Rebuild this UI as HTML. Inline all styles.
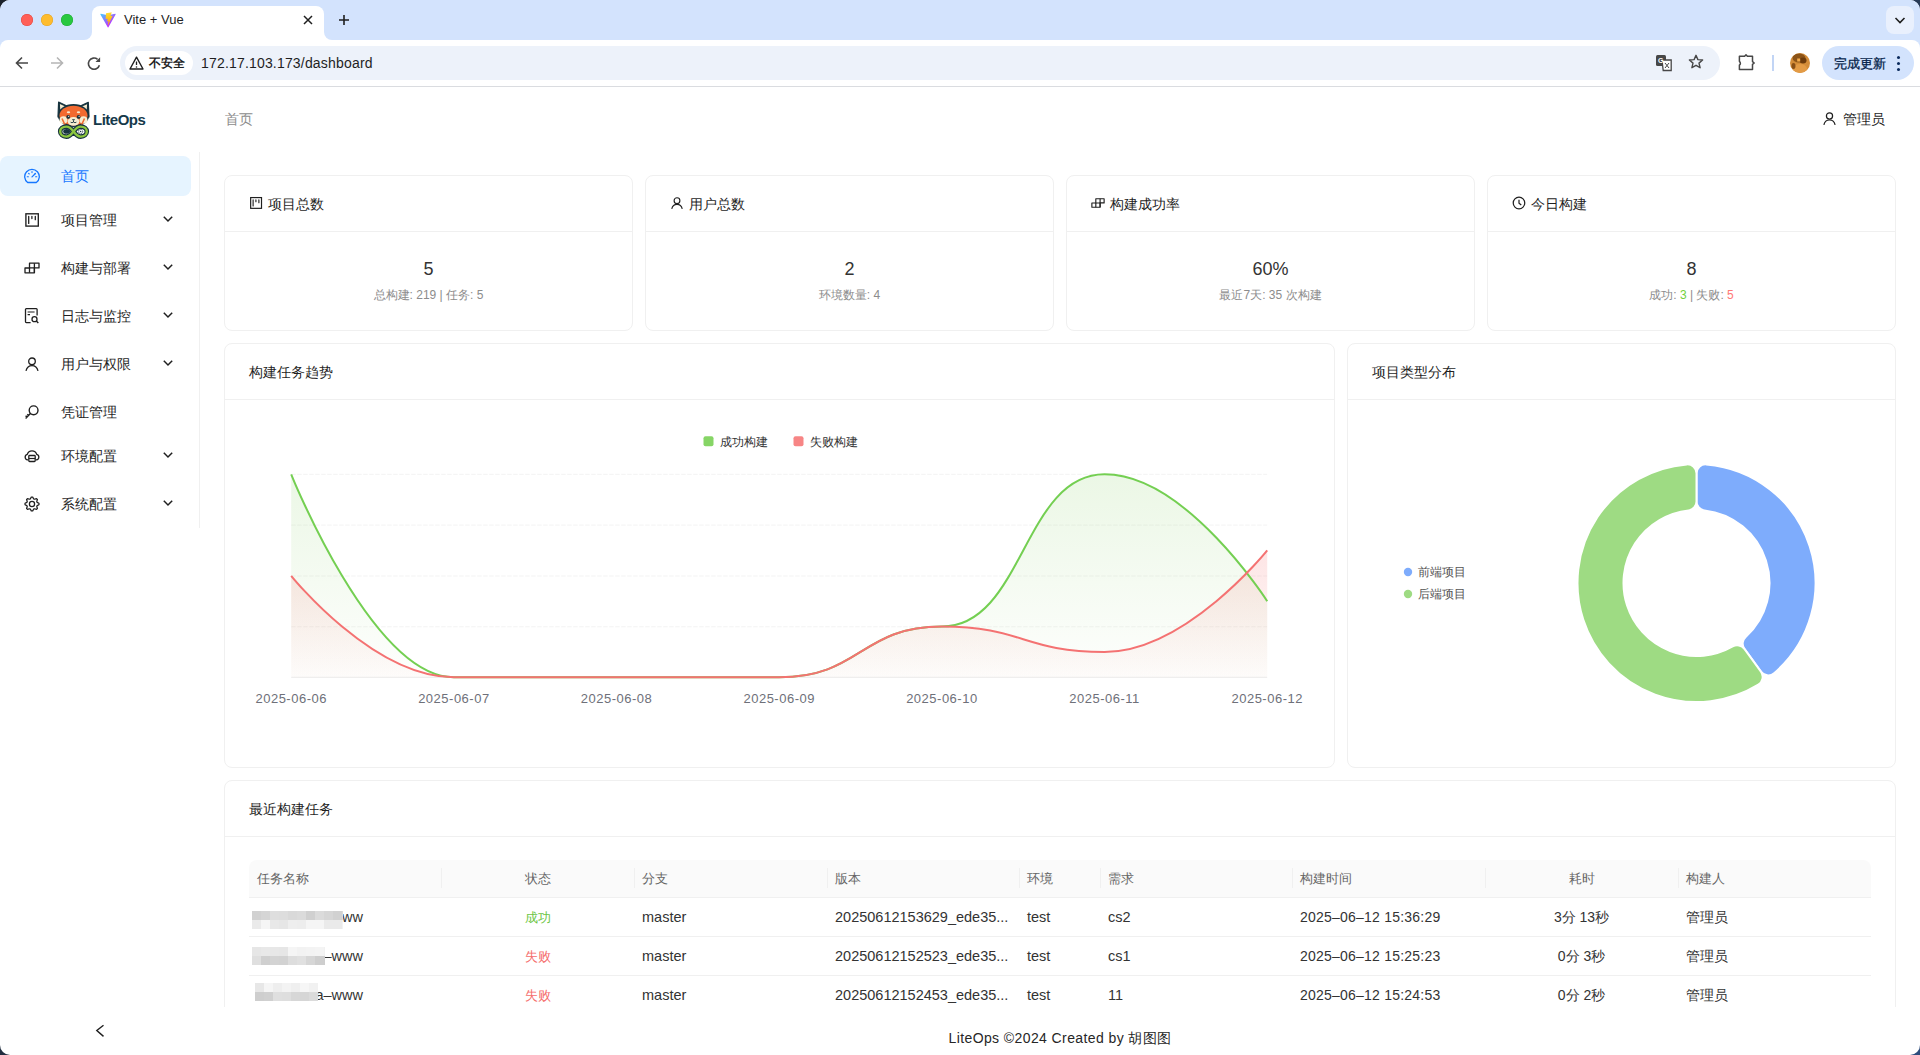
<!DOCTYPE html><html><head><meta charset="utf-8"><style>
*{box-sizing:border-box;margin:0;padding:0}
html,body{width:1920px;height:1055px;overflow:hidden;background:linear-gradient(135deg,#1c222c 0%,#243247 50%,#2d4c7c 100%)}
body{font-family:"Liberation Sans",sans-serif;color:#262626;position:relative}
.abs{position:absolute}
.win{position:absolute;left:0;top:0;width:1920px;height:1055px;border-radius:10px;overflow:hidden;background:#fff}
.tabstrip{position:absolute;left:0;top:0;width:1920px;height:48px;background:#d3e3fd}
.tab{position:absolute;left:92px;top:6px;width:232px;height:34px;background:#fff;border-radius:8px 8px 0 0}
.flare{position:absolute;top:32px;width:8px;height:8px;background:#fff}
.flare i{position:absolute;left:0;top:0;width:8px;height:8px;background:#d3e3fd}
.toolbar{position:absolute;left:0;top:40px;width:1920px;height:46px;background:#fff;border-radius:8px 8px 0 0}
.tbline{position:absolute;left:0;top:86px;width:1920px;height:1px;background:#dadce0}
.omni{position:absolute;left:120px;top:46px;width:1600px;height:34px;border-radius:17px;background:#edf2fa}
.chip{position:absolute;left:125px;top:51px;width:68px;height:24px;border-radius:12px;background:#fff}
.t{position:absolute;white-space:nowrap;line-height:1}
.side-line{position:absolute;left:199px;top:152px;width:1px;height:376px;background:#f0f0f0}
.menu-act{position:absolute;left:0;top:156px;width:191px;height:40px;border-radius:8px;background:#e6f4ff}
.card{position:absolute;background:#fff;border:1px solid #f0f0f0;border-radius:8px}
.card .head{position:absolute;left:0;top:0;right:0;height:56px;border-bottom:1px solid #f0f0f0}
</style></head><body><div class="win">
<div class="tabstrip"></div>
<div class="tab"></div>
<div class="flare" style="left:84px"><i style="border-radius:0 0 8px 0"></i></div>
<div class="flare" style="left:324px"><i style="border-radius:0 0 0 8px"></i></div>
<div class="toolbar"></div>
<div class="tbline"></div>
<div class="omni"></div>
<div class="chip"></div>
<div class="abs" style="left:21px;top:14px;width:12px;height:12px;border-radius:6px;background:#ff5f57;box-shadow:inset 0 0 0 0.5px #e2463f"></div>
<div class="abs" style="left:41px;top:14px;width:12px;height:12px;border-radius:6px;background:#febc2e;box-shadow:inset 0 0 0 0.5px #e1a325"></div>
<div class="abs" style="left:61px;top:14px;width:12px;height:12px;border-radius:6px;background:#28c840;box-shadow:inset 0 0 0 0.5px #1fa934"></div>
<svg class="abs" style="left:100px;top:12px" width="16" height="16" viewBox="0 0 410 404">
<defs><linearGradient id="vg1" x1="6" y1="33" x2="235" y2="344" gradientUnits="userSpaceOnUse"><stop offset="0" stop-color="#41D1FF"/><stop offset="1" stop-color="#BD34FE"/></linearGradient>
<linearGradient id="vg2" x1="194" y1="8" x2="236" y2="292" gradientUnits="userSpaceOnUse"><stop offset="0" stop-color="#FFEA83"/><stop offset=".08" stop-color="#FFDD35"/><stop offset="1" stop-color="#FFA800"/></linearGradient></defs>
<path d="M399.641 59.5246L215.643 388.545C211.844 395.338 202.084 395.378 198.228 388.618L10.5817 59.5563C6.38087 52.1896 12.6802 43.2665 21.0281 44.7586L205.223 77.6824C206.398 77.8924 207.601 77.8904 208.776 77.6763L389.119 44.8058C397.439 43.2894 403.768 52.1434 399.641 59.5246Z" fill="url(#vg1)"/>
<path d="M292.965 1.5744L156.801 28.2552C154.563 28.6937 152.906 30.5903 152.771 32.8664L144.395 174.33C144.198 177.662 147.258 180.248 150.51 179.498L188.42 170.749C191.967 169.931 195.172 173.055 194.443 176.622L183.18 231.775C182.422 235.487 185.907 238.661 189.532 237.56L212.947 230.446C216.577 229.344 220.065 232.527 219.297 236.242L201.398 322.875C200.278 328.294 207.486 331.249 210.492 326.603L212.5 323.5L323.454 102.072C325.312 98.3645 322.108 94.137 318.036 94.9228L279.014 102.454C275.347 103.161 272.227 99.746 273.262 96.1583L298.731 7.86689C299.767 4.27314 296.636 0.855181 292.965 1.5744Z" fill="url(#vg2)"/></svg>
<div class="t" style="left:124px;top:13px;font-size:13px;color:#1f1f1f;font-weight:normal;">Vite + Vue</div>
<svg class="abs" style="left:302px;top:14px" width="12" height="12" viewBox="0 0 12 12"><path d="M2 2L10 10M10 2L2 10" stroke="#1f1f1f" stroke-width="1.5"/></svg>
<svg class="abs" style="left:338px;top:14px" width="12" height="12" viewBox="0 0 12 12"><path d="M6 1V11M1 6H11" stroke="#1f1f1f" stroke-width="1.6"/></svg>
<svg class="abs" style="left:14px;top:55px" width="16" height="16" viewBox="0 0 16 16"><path d="M14 8H3M8 2.5L2.5 8L8 13.5" stroke="#474747" stroke-width="1.6" fill="none"/></svg>
<svg class="abs" style="left:49px;top:55px" width="16" height="16" viewBox="0 0 16 16"><path d="M2 8H13M8 2.5L13.5 8L8 13.5" stroke="#b5b5b5" stroke-width="1.6" fill="none"/></svg>
<svg class="abs" style="left:86px;top:55px" width="16" height="16" viewBox="0 0 16 16"><path d="M13.4 10.2A5.6 5.6 0 1 1 11.6 4.3" stroke="#474747" stroke-width="1.6" fill="none"/><path d="M14.1 2.3V6.9H9.5Z" fill="#474747"/></svg>
<svg class="abs" style="left:129px;top:56px" width="15" height="14" viewBox="0 0 15 14"><path d="M7.5 1.2L14 13H1Z" stroke="#1f1f1f" stroke-width="1.4" fill="none" stroke-linejoin="round"/><path d="M7.5 5.5V9" stroke="#1f1f1f" stroke-width="1.3"/><circle cx="7.5" cy="11" r="0.8" fill="#1f1f1f"/></svg>
<div class="t" style="left:149px;top:57px;font-size:12px;color:#1f1f1f;font-weight:bold;">不安全</div>
<div class="t" style="left:201px;top:56px;font-size:14px;color:#1f1f1f;font-weight:normal;letter-spacing:0.18px">172.17.103.173/dashboard</div>
<svg class="abs" style="left:1655px;top:54px" width="18" height="18" viewBox="0 0 18 18"><rect x="1" y="1" width="10" height="11" rx="1.5" fill="#474747"/><path d="M7 6H16.2V16.5H8.2Z" fill="#fff" stroke="#474747" stroke-width="1.3"/><text x="3" y="9" font-size="7" fill="#fff" font-family="Liberation Sans" font-weight="bold">G</text><path d="M10 9L14 14M14 9L10 14" stroke="#474747" stroke-width="1"/></svg>
<svg class="abs" style="left:1688px;top:54px" width="16" height="16" viewBox="0 0 16 16"><path d="M8 1.3L9.9 5.6L14.6 6L11 9.1L12.1 13.7L8 11.3L3.9 13.7L5 9.1L1.4 6L6.1 5.6Z" stroke="#474747" stroke-width="1.4" fill="none" stroke-linejoin="round"/></svg>
<svg class="abs" style="left:1738px;top:54px" width="18" height="17" viewBox="0 0 18 17"><path d="M1.4 2.3H6.6L8 0.9L9.4 2.3H14.5V7.6L16.2 9L14.5 10.4V15.4H1.4V11.2Q3.4 9.6 1.4 7.2Z" stroke="#474747" stroke-width="1.5" fill="none" stroke-linejoin="round"/></svg>
<div class="abs" style="left:1772px;top:55px;width:2px;height:16px;background:#c2d5f5"></div>
<svg class="abs" style="left:1790px;top:53px" width="20" height="20" viewBox="0 0 20 20"><defs><clipPath id="avc"><circle cx="10" cy="10" r="10"/></clipPath></defs><g clip-path="url(#avc)"><rect width="20" height="20" fill="#d38c38"/><ellipse cx="9" cy="5" rx="6.5" ry="4.5" fill="#8c5418"/><ellipse cx="13" cy="7.5" rx="3.5" ry="3" fill="#6e3c0c"/><rect x="7.2" y="5.5" width="3" height="3" fill="#f4ac4c"/><ellipse cx="10" cy="16" rx="7" ry="5" fill="#e39b45"/><ellipse cx="3.5" cy="13" rx="2" ry="3" fill="#8a5016"/></g></svg>
<div class="abs" style="left:1822px;top:46px;width:92px;height:34px;border-radius:17px;background:#d3e3fd"></div>
<div class="t" style="left:1834px;top:57px;font-size:13px;color:#041e49;font-weight:normal;-webkit-text-stroke:0.3px #041e49">完成更新</div>
<div class="abs" style="left:1897px;top:56px;width:3px;height:3px;border-radius:2px;background:#0b2a5c;box-shadow:0 6px 0 #0b2a5c,0 12px 0 #0b2a5c"></div>
<div class="abs" style="left:1886px;top:6px;width:28px;height:28px;border-radius:8px;background:#e9f0fd"></div>
<svg class="abs" style="left:1894px;top:15px" width="12" height="10" viewBox="0 0 12 10"><path d="M1.5 3L6 7.5L10.5 3" stroke="#1f1f1f" stroke-width="1.6" fill="none"/></svg>
<div class="side-line"></div>
<div class="menu-act"></div>
<svg class="abs" style="left:57px;top:101px" width="33" height="38" viewBox="0 0 33 38">
<path d="M1.6 1L13 6.5H20L31.3 1.3L32 16H1Z" fill="#17343f" stroke="#17343f" stroke-width="1.2" stroke-linejoin="round"/>
<path d="M2.9 3L12 7.2L3.6 13.5Z M30.1 3.3L21 7.2L29.4 13.5Z" fill="#f6ecd0"/>
<path d="M4.8 8.2L9.5 8.3L5.2 12.5Z M28.2 8.2L23.5 8.3L27.8 12.5Z" fill="#17343f"/>
<ellipse cx="16.5" cy="14.5" rx="15.6" ry="11.4" fill="#17343f"/>
<ellipse cx="16.5" cy="14.6" rx="14" ry="9.9" fill="#f26a30"/>
<ellipse cx="6.5" cy="19" rx="4" ry="3.8" fill="#f6ecd0"/><ellipse cx="26.5" cy="19" rx="4" ry="3.8" fill="#f6ecd0"/>
<path d="M5 17.5L8 24M27.5 17.5L24.5 24" stroke="#f26a30" stroke-width="1.6"/>
<ellipse cx="16.5" cy="20.4" rx="5.8" ry="4.3" fill="#f6ecd0"/>
<ellipse cx="11.5" cy="11.3" rx="1.7" ry="1" fill="#f6ecd0"/><ellipse cx="21.5" cy="11.3" rx="1.7" ry="1" fill="#f6ecd0"/>
<circle cx="11.2" cy="15.9" r="1.9" fill="#17343f"/><circle cx="21.6" cy="15.9" r="1.9" fill="#17343f"/>
<circle cx="11.7" cy="15.3" r="0.6" fill="#fff"/><circle cx="22.1" cy="15.3" r="0.6" fill="#fff"/>
<path d="M14.8 18.3H18.2L16.5 19.9Z" fill="#17343f"/>
<path d="M16.5 19.9V21M13.6 21.2Q15 22.4 16.5 21Q18 22.4 19.4 21.2" stroke="#17343f" stroke-width="0.9" fill="none"/>
<path d="M16.5 30.5C14 27.2 12.5 25.6 9.4 25.6C5.6 25.6 3.2 27.8 3.2 30.5C3.2 33.2 5.6 35.6 9.4 35.6C12.5 35.6 14 33.8 16.5 30.5C19 27.2 20.5 25.6 23.6 25.6C27.4 25.6 29.8 27.8 29.8 30.5C29.8 33.2 27.4 35.6 23.6 35.6C20.5 35.6 19 33.8 16.5 30.5Z" stroke="#17343f" stroke-width="4.6" fill="none"/>
<path d="M16.5 30.5C14 27.2 12.5 25.6 9.4 25.6C5.6 25.6 3.2 27.8 3.2 30.5C3.2 33.2 5.6 35.6 9.4 35.6C12.5 35.6 14 33.8 16.5 30.5C19 27.2 20.5 25.6 23.6 25.6C27.4 25.6 29.8 27.8 29.8 30.5C29.8 33.2 27.4 35.6 23.6 35.6C20.5 35.6 19 33.8 16.5 30.5Z" stroke="#8cc63f" stroke-width="2.4" fill="none"/>
<ellipse cx="9.6" cy="30.4" rx="3.4" ry="2.4" fill="#17343f"/>
<circle cx="23.6" cy="30.5" r="2.1" fill="none" stroke="#17343f" stroke-width="0.9" stroke-dasharray="1 0.6"/>
<circle cx="23.6" cy="30.5" r="0.8" fill="#17343f"/>
</svg>
<div class="t" style="left:93px;top:112px;font-size:15px;color:#15394a;font-weight:bold;letter-spacing:-0.5px">LiteOps</div>
<svg class="abs" style="left:24px;top:168px" width="16" height="16" viewBox="0 0 16 16"><path d="M3.67 14.5A7.3 7.3 0 1 1 12.33 14.5Z" fill="none" stroke="#1677ff" stroke-width="1.3" stroke-linejoin="round"/><path d="M8 8.9L11.2 5.8" stroke="#1677ff" stroke-width="1.3" stroke-linecap="round"/><path d="M3.2 8.7H4.4M11.6 8.7H12.8M8 3.6V4.6M4.6 5.4L5.3 6M11.4 5.4L10.9 5.9" stroke="#1677ff" stroke-width="1.1" stroke-linecap="round"/></svg>
<div class="t" style="left:61px;top:169px;font-size:14px;color:#1677ff;font-weight:normal;">首页</div>
<svg class="abs" style="left:24px;top:212px" width="16" height="16" viewBox="0 0 16 16"><rect x="1.9" y="1.8" width="12.4" height="12.3" fill="none" stroke="#1f1f1f" stroke-width="1.35"/><path d="M4.7 4.5V11.4M7.9 4.5V6.6M11.3 4.5V7.7" stroke="#1f1f1f" stroke-width="1.3" stroke-linecap="round"/></svg>
<div class="t" style="left:61px;top:213px;font-size:14px;color:#1f1f1f;font-weight:normal;">项目管理</div>
<svg class="abs" style="left:162px;top:215px" width="12" height="8" viewBox="0 0 12 8"><path d="M1.8 1.8L6 6L10.2 1.8" fill="none" stroke="#1f1f1f" stroke-width="1.5"/></svg>
<svg class="abs" style="left:24px;top:260px" width="16" height="16" viewBox="0 0 16 16"><path d="M1 8H5.5V3.2H15V7.9H10.4V12.8H1Z" fill="none" stroke="#1f1f1f" stroke-width="1.3" stroke-linejoin="round"/><path d="M5.5 8V12.8M10.4 3.2V12.8M5.5 7.95H10.4" stroke="#1f1f1f" stroke-width="1.3"/></svg>
<div class="t" style="left:61px;top:261px;font-size:14px;color:#1f1f1f;font-weight:normal;">构建与部署</div>
<svg class="abs" style="left:162px;top:263px" width="12" height="8" viewBox="0 0 12 8"><path d="M1.8 1.8L6 6L10.2 1.8" fill="none" stroke="#1f1f1f" stroke-width="1.5"/></svg>
<svg class="abs" style="left:24px;top:308px" width="16" height="16" viewBox="0 0 16 16"><path d="M13.1 7.4V1.5A0.8 0.8 0 0 0 12.3 0.7H2.3A0.8 0.8 0 0 0 1.5 1.5V13.8A0.8 0.8 0 0 0 2.3 14.6H6.6" fill="none" stroke="#1f1f1f" stroke-width="1.3"/><path d="M3.6 4H10.6M3.6 6.6H6" stroke="#1f1f1f" stroke-width="1.2"/><circle cx="10.5" cy="11.2" r="2.5" fill="none" stroke="#1f1f1f" stroke-width="1.3"/><path d="M12.3 13L14.3 15" stroke="#1f1f1f" stroke-width="1.4"/></svg>
<div class="t" style="left:61px;top:309px;font-size:14px;color:#1f1f1f;font-weight:normal;">日志与监控</div>
<svg class="abs" style="left:162px;top:311px" width="12" height="8" viewBox="0 0 12 8"><path d="M1.8 1.8L6 6L10.2 1.8" fill="none" stroke="#1f1f1f" stroke-width="1.5"/></svg>
<svg class="abs" style="left:24px;top:356px" width="16" height="16" viewBox="0 0 16 16"><circle cx="8" cy="5.3" r="3.3" fill="none" stroke="#1f1f1f" stroke-width="1.3"/><path d="M2 14.8Q3.2 9.6 8 9.6Q12.8 9.6 14 14.8" fill="none" stroke="#1f1f1f" stroke-width="1.3"/></svg>
<div class="t" style="left:61px;top:357px;font-size:14px;color:#1f1f1f;font-weight:normal;">用户与权限</div>
<svg class="abs" style="left:162px;top:359px" width="12" height="8" viewBox="0 0 12 8"><path d="M1.8 1.8L6 6L10.2 1.8" fill="none" stroke="#1f1f1f" stroke-width="1.5"/></svg>
<svg class="abs" style="left:24px;top:404px" width="16" height="16" viewBox="0 0 16 16"><circle cx="9.6" cy="6.3" r="4.4" fill="none" stroke="#1f1f1f" stroke-width="1.4"/><path d="M6.4 9.5L1.6 14.4M4.4 11.4L3.2 10.4M2.9 12.9L1.6 11.8" stroke="#1f1f1f" stroke-width="1.4"/></svg>
<div class="t" style="left:61px;top:405px;font-size:14px;color:#1f1f1f;font-weight:normal;">凭证管理</div>
<svg class="abs" style="left:24px;top:448px" width="16" height="16" viewBox="0 0 16 16"><path d="M4 11.8H3.6A2.8 2.8 0 0 1 3.3 6.3A4.9 4.9 0 0 1 12.7 6.3A2.8 2.8 0 0 1 12.4 11.8H12" fill="none" stroke="#1f1f1f" stroke-width="1.3"/><rect x="4.8" y="7.5" width="6.4" height="6" rx="0.8" fill="none" stroke="#1f1f1f" stroke-width="1.3"/><path d="M4.8 10.5H11.2" stroke="#1f1f1f" stroke-width="1.2"/></svg>
<div class="t" style="left:61px;top:449px;font-size:14px;color:#1f1f1f;font-weight:normal;">环境配置</div>
<svg class="abs" style="left:162px;top:451px" width="12" height="8" viewBox="0 0 12 8"><path d="M1.8 1.8L6 6L10.2 1.8" fill="none" stroke="#1f1f1f" stroke-width="1.5"/></svg>
<svg class="abs" style="left:24px;top:496px" width="16" height="16" viewBox="0 0 16 16"><path d="M7.31 1.03 L8.69 1.03 L9.57 2.83 L10.55 3.24 L12.44 2.59 L13.41 3.56 L12.76 5.45 L13.17 6.43 L14.97 7.31 L14.97 8.69 L13.17 9.57 L12.76 10.55 L13.41 12.44 L12.44 13.41 L10.55 12.76 L9.57 13.17 L8.69 14.97 L7.31 14.97 L6.43 13.17 L5.45 12.76 L3.56 13.41 L2.59 12.44 L3.24 10.55 L2.83 9.57 L1.03 8.69 L1.03 7.31 L2.83 6.43 L3.24 5.45 L2.59 3.56 L3.56 2.59 L5.45 3.24 L6.43 2.83Z" fill="none" stroke="#1f1f1f" stroke-width="1.25" stroke-linejoin="round"/><circle cx="8" cy="8" r="2.6" fill="none" stroke="#1f1f1f" stroke-width="1.25"/></svg>
<div class="t" style="left:61px;top:497px;font-size:14px;color:#1f1f1f;font-weight:normal;">系统配置</div>
<svg class="abs" style="left:162px;top:499px" width="12" height="8" viewBox="0 0 12 8"><path d="M1.8 1.8L6 6L10.2 1.8" fill="none" stroke="#1f1f1f" stroke-width="1.5"/></svg>
<div class="t" style="left:225px;top:112px;font-size:14px;color:#8c8c8c;font-weight:normal;">首页</div>
<svg class="abs" style="left:1822px;top:111px" width="15" height="15" viewBox="0 0 16 16"><circle cx="8" cy="5.3" r="3.3" fill="none" stroke="#1f1f1f" stroke-width="1.3"/><path d="M2 14.8Q3.2 9.6 8 9.6Q12.8 9.6 14 14.8" fill="none" stroke="#1f1f1f" stroke-width="1.3"/></svg>
<div class="t" style="left:1843px;top:112px;font-size:14px;color:#1f1f1f;font-weight:normal;">管理员</div>
<div class="card" style="left:224px;top:175px;width:409px;height:156px"><div class="head"></div></div><svg class="abs" style="left:249px;top:196px" width="14" height="14" viewBox="0 0 16 16"><rect x="1.9" y="1.8" width="12.4" height="12.3" fill="none" stroke="#1f1f1f" stroke-width="1.35"/><path d="M4.7 4.5V11.4M7.9 4.5V6.6M11.3 4.5V7.7" stroke="#1f1f1f" stroke-width="1.3" stroke-linecap="round"/></svg><div class="t" style="left:268px;top:197px;font-size:14px;color:#1f1f1f;font-weight:normal;">项目总数</div>
<div class="t" style="left:224px;width:409px;top:260px;text-align:center;font-size:18px;color:#333">5</div>
<div class="t" style="left:224px;width:409px;top:289px;text-align:center;font-size:12px;color:#8c8c8c">总构建: 219 | 任务: 5</div>
<div class="card" style="left:645px;top:175px;width:409px;height:156px"><div class="head"></div></div><svg class="abs" style="left:670px;top:196px" width="14" height="14" viewBox="0 0 16 16"><circle cx="8" cy="5.3" r="3.3" fill="none" stroke="#1f1f1f" stroke-width="1.3"/><path d="M2 14.8Q3.2 9.6 8 9.6Q12.8 9.6 14 14.8" fill="none" stroke="#1f1f1f" stroke-width="1.3"/></svg><div class="t" style="left:689px;top:197px;font-size:14px;color:#1f1f1f;font-weight:normal;">用户总数</div>
<div class="t" style="left:645px;width:409px;top:260px;text-align:center;font-size:18px;color:#333">2</div>
<div class="t" style="left:645px;width:409px;top:289px;text-align:center;font-size:12px;color:#8c8c8c">环境数量: 4</div>
<div class="card" style="left:1066px;top:175px;width:409px;height:156px"><div class="head"></div></div><svg class="abs" style="left:1091px;top:196px" width="14" height="14" viewBox="0 0 16 16"><path d="M1 8H5.5V3.2H15V7.9H10.4V12.8H1Z" fill="none" stroke="#1f1f1f" stroke-width="1.3" stroke-linejoin="round"/><path d="M5.5 8V12.8M10.4 3.2V12.8M5.5 7.95H10.4" stroke="#1f1f1f" stroke-width="1.3"/></svg><div class="t" style="left:1110px;top:197px;font-size:14px;color:#1f1f1f;font-weight:normal;">构建成功率</div>
<div class="t" style="left:1066px;width:409px;top:260px;text-align:center;font-size:18px;color:#333">60%</div>
<div class="t" style="left:1066px;width:409px;top:289px;text-align:center;font-size:12px;color:#8c8c8c">最近7天: 35 次构建</div>
<div class="card" style="left:1487px;top:175px;width:409px;height:156px"><div class="head"></div></div><svg class="abs" style="left:1512px;top:196px" width="14" height="14" viewBox="0 0 16 16"><circle cx="8" cy="8" r="6.6" fill="none" stroke="#1f1f1f" stroke-width="1.4"/><path d="M8 4.2V8.3L10.6 10.4" fill="none" stroke="#1f1f1f" stroke-width="1.4"/></svg><div class="t" style="left:1531px;top:197px;font-size:14px;color:#1f1f1f;font-weight:normal;">今日构建</div>
<div class="t" style="left:1487px;width:409px;top:260px;text-align:center;font-size:18px;color:#333">8</div>
<div class="t" style="left:1487px;width:409px;top:289px;text-align:center;font-size:12px;color:#8c8c8c">成功: <span style="color:#73d13d">3</span> | 失败: <span style="color:#ff7875">5</span></div>
<div class="card" style="left:224px;top:343px;width:1111px;height:425px"><div class="head"></div></div><div class="t" style="left:249px;top:365px;font-size:14px;color:#1f1f1f;font-weight:normal;">构建任务趋势</div>
<div class="card" style="left:1347px;top:343px;width:549px;height:425px"><div class="head"></div></div><div class="t" style="left:1372px;top:365px;font-size:14px;color:#1f1f1f;font-weight:normal;">项目类型分布</div>
<div class="abs" style="left:0;top:0;width:1920px;height:1007px;overflow:hidden"><div class="card" style="left:224px;top:780px;width:1672px;height:400px"><div class="head"></div></div></div>
<div class="t" style="left:249px;top:802px;font-size:14px;color:#1f1f1f;font-weight:normal;">最近构建任务</div>
<svg class="abs" style="left:0;top:0" width="1920" height="1055" viewBox="0 0 1920 1055">
<defs>
<linearGradient id="gs" x1="0" y1="0" x2="0" y2="1"><stop offset="0" stop-color="#67c23a" stop-opacity="0.13"/><stop offset="1" stop-color="#67c23a" stop-opacity="0.01"/></linearGradient>
<linearGradient id="gf" x1="0" y1="0" x2="0" y2="1"><stop offset="0" stop-color="#f56c6c" stop-opacity="0.18"/><stop offset="1" stop-color="#f56c6c" stop-opacity="0.02"/></linearGradient>
</defs>
<path d="M291.2 474.3H1267.2" stroke="#f3f3f3" stroke-width="1" stroke-dasharray="4.5 1.5"/>
<path d="M291.2 525.1H1267.2" stroke="#f3f3f3" stroke-width="1" stroke-dasharray="4.5 1.5"/>
<path d="M291.2 576.0H1267.2" stroke="#f3f3f3" stroke-width="1" stroke-dasharray="4.5 1.5"/>
<path d="M291.2 626.8H1267.2" stroke="#f3f3f3" stroke-width="1" stroke-dasharray="4.5 1.5"/>
<path d="M291.2 677.3H1267.2" stroke="#ebebeb" stroke-width="1"/>
<path d="M291.20 474.30 C291.20 474.30 372.53 677.30 453.87 677.30 C535.20 677.30 535.20 677.30 616.54 677.30 C697.88 677.30 697.88 677.30 779.21 677.30 C860.54 677.30 860.54 626.55 941.88 626.55 C1023.21 626.55 1023.21 474.30 1104.55 474.30 C1185.88 474.30 1267.22 601.17 1267.22 601.17 L1267.22 677.3 L291.2 677.3 Z" fill="url(#gs)"/>
<path d="M291.20 575.80 C291.20 575.80 372.53 677.30 453.87 677.30 C535.20 677.30 535.20 677.30 616.54 677.30 C697.88 677.30 697.88 677.30 779.21 677.30 C860.54 677.30 860.54 626.55 941.88 626.55 C1023.21 626.55 1023.21 651.92 1104.55 651.92 C1185.88 651.92 1267.22 550.42 1267.22 550.42 L1267.22 677.3 L291.2 677.3 Z" fill="url(#gf)"/>
<path d="M291.20 474.30 C291.20 474.30 372.53 677.30 453.87 677.30 C535.20 677.30 535.20 677.30 616.54 677.30 C697.88 677.30 697.88 677.30 779.21 677.30 C860.54 677.30 860.54 626.55 941.88 626.55 C1023.21 626.55 1023.21 474.30 1104.55 474.30 C1185.88 474.30 1267.22 601.17 1267.22 601.17" fill="none" stroke="#74cf52" stroke-width="2" stroke-linejoin="round"/>
<path d="M291.20 575.80 C291.20 575.80 372.53 677.30 453.87 677.30 C535.20 677.30 535.20 677.30 616.54 677.30 C697.88 677.30 697.88 677.30 779.21 677.30 C860.54 677.30 860.54 626.55 941.88 626.55 C1023.21 626.55 1023.21 651.92 1104.55 651.92 C1185.88 651.92 1267.22 550.42 1267.22 550.42" fill="none" stroke="#f47272" stroke-width="2" stroke-linejoin="round"/>
<rect x="703.5" y="436.2" width="10" height="10" rx="2" fill="#86d566"/>
<rect x="793.5" y="436.2" width="10" height="10" rx="2" fill="#f78585"/>
</svg>
<div class="t" style="left:720px;top:436px;font-size:12px;color:#333;font-weight:normal;">成功构建</div>
<div class="t" style="left:810px;top:436px;font-size:12px;color:#333;font-weight:normal;">失败构建</div>
<div class="t" style="left:241.2px;width:100px;top:692px;text-align:center;font-size:13px;letter-spacing:0.5px;color:#6e7079">2025-06-06</div>
<div class="t" style="left:403.9px;width:100px;top:692px;text-align:center;font-size:13px;letter-spacing:0.5px;color:#6e7079">2025-06-07</div>
<div class="t" style="left:566.5px;width:100px;top:692px;text-align:center;font-size:13px;letter-spacing:0.5px;color:#6e7079">2025-06-08</div>
<div class="t" style="left:729.2px;width:100px;top:692px;text-align:center;font-size:13px;letter-spacing:0.5px;color:#6e7079">2025-06-09</div>
<div class="t" style="left:891.9px;width:100px;top:692px;text-align:center;font-size:13px;letter-spacing:0.5px;color:#6e7079">2025-06-10</div>
<div class="t" style="left:1054.5px;width:100px;top:692px;text-align:center;font-size:13px;letter-spacing:0.5px;color:#6e7079">2025-06-11</div>
<div class="t" style="left:1217.2px;width:100px;top:692px;text-align:center;font-size:13px;letter-spacing:0.5px;color:#6e7079">2025-06-12</div>
<svg class="abs" style="left:0;top:0" width="1920" height="1055" viewBox="0 0 1920 1055">
<path d="M1696.50 473.37 A9 9 0 0 1 1706.24 464.40 A119.0 119.0 0 0 1 1774.09 673.23 A9 9 0 0 1 1760.94 671.69 L1744.41 648.94 A9 9 0 0 1 1745.63 636.99 A73.0 73.0 0 0 0 1704.51 510.44 A9 9 0 0 1 1696.50 501.50 Z" fill="#7eacfc" stroke="#fff" stroke-width="2"/>
<path d="M1760.94 671.69 A9 9 0 0 1 1758.34 684.67 A119.0 119.0 0 1 1 1686.76 464.40 A9 9 0 0 1 1696.50 473.37 L1696.50 501.50 A9 9 0 0 1 1688.49 510.44 A73.0 73.0 0 1 0 1732.67 646.41 A9 9 0 0 1 1744.41 648.94 Z" fill="#9edb83" stroke="#fff" stroke-width="2"/>
<circle cx="1408" cy="572" r="4.2" fill="#7eacfc"/><circle cx="1408" cy="594" r="4.2" fill="#9edb83"/>
</svg>
<div class="t" style="left:1418px;top:566px;font-size:12px;color:#555;font-weight:normal;">前端项目</div>
<div class="t" style="left:1418px;top:588px;font-size:12px;color:#555;font-weight:normal;">后端项目</div>
<div class="abs" style="left:224px;top:0;width:1672px;height:1007px;overflow:hidden">
<div class="abs" style="left:25px;top:860px;width:1622px;height:38px;background:#fafafa;border-radius:8px 8px 0 0;border-bottom:1px solid #f0f0f0"></div>
<div class="abs" style="left:217px;top:868px;width:1px;height:20px;background:#f0f0f0"></div>
<div class="abs" style="left:410px;top:868px;width:1px;height:20px;background:#f0f0f0"></div>
<div class="abs" style="left:603px;top:868px;width:1px;height:20px;background:#f0f0f0"></div>
<div class="abs" style="left:795px;top:868px;width:1px;height:20px;background:#f0f0f0"></div>
<div class="abs" style="left:876px;top:868px;width:1px;height:20px;background:#f0f0f0"></div>
<div class="abs" style="left:1068px;top:868px;width:1px;height:20px;background:#f0f0f0"></div>
<div class="abs" style="left:1261px;top:868px;width:1px;height:20px;background:#f0f0f0"></div>
<div class="abs" style="left:1454px;top:868px;width:1px;height:20px;background:#f0f0f0"></div>
<div class="t" style="left:33px;top:872px;font-size:13px;color:#666;">任务名称</div>
<div class="t" style="left:217px;width:193px;top:872px;text-align:center;font-size:13px;color:#666;">状态</div>
<div class="t" style="left:418px;top:872px;font-size:13px;color:#666;">分支</div>
<div class="t" style="left:611px;top:872px;font-size:13px;color:#666;">版本</div>
<div class="t" style="left:803px;top:872px;font-size:13px;color:#666;">环境</div>
<div class="t" style="left:884px;top:872px;font-size:13px;color:#666;">需求</div>
<div class="t" style="left:1076px;top:872px;font-size:13px;color:#666;">构建时间</div>
<div class="t" style="left:1261px;width:193px;top:872px;text-align:center;font-size:13px;color:#666;">耗时</div>
<div class="t" style="left:1462px;top:872px;font-size:13px;color:#666;">构建人</div>
<div class="abs" style="left:25px;top:936px;width:1622px;height:1px;background:#f0f0f0"></div>
<div class="t" style="left:139px;top:910px;font-size:14.5px;color:#333;transform:translateX(-100%)">ww</div>
<div class="t" style="left:217px;width:193px;top:911px;text-align:center;font-size:13px;color:#6cc644;">成功</div>
<div class="t" style="left:418px;top:910px;font-size:14.5px;color:#333;">master</div>
<div class="t" style="left:611px;top:910px;font-size:14.5px;color:#333;">20250612153629_ede35...</div>
<div class="t" style="left:803px;top:910px;font-size:14.5px;color:#333;">test</div>
<div class="t" style="left:884px;top:910px;font-size:14.5px;color:#333;">cs2</div>
<div class="t" style="left:1076px;top:910px;font-size:14px;color:#333;letter-spacing:0.22px">2025–06–12 15:36:29</div>
<div class="t" style="left:1261px;width:193px;top:910px;text-align:center;font-size:14px;color:#333;">3分 13秒</div>
<div class="t" style="left:1462px;top:910px;font-size:14px;color:#333;">管理员</div>
<div class="abs" style="left:25px;top:975px;width:1622px;height:1px;background:#f0f0f0"></div>
<div class="t" style="left:139px;top:949px;font-size:14.5px;color:#333;transform:translateX(-100%)">–www</div>
<div class="t" style="left:217px;width:193px;top:950px;text-align:center;font-size:13px;color:#f56c6c;">失败</div>
<div class="t" style="left:418px;top:949px;font-size:14.5px;color:#333;">master</div>
<div class="t" style="left:611px;top:949px;font-size:14.5px;color:#333;">20250612152523_ede35...</div>
<div class="t" style="left:803px;top:949px;font-size:14.5px;color:#333;">test</div>
<div class="t" style="left:884px;top:949px;font-size:14.5px;color:#333;">cs1</div>
<div class="t" style="left:1076px;top:949px;font-size:14px;color:#333;letter-spacing:0.22px">2025–06–12 15:25:23</div>
<div class="t" style="left:1261px;width:193px;top:949px;text-align:center;font-size:14px;color:#333;">0分 3秒</div>
<div class="t" style="left:1462px;top:949px;font-size:14px;color:#333;">管理员</div>
<div class="t" style="left:139px;top:988px;font-size:14.5px;color:#333;transform:translateX(-100%)">a–www</div>
<div class="t" style="left:217px;width:193px;top:989px;text-align:center;font-size:13px;color:#f56c6c;">失败</div>
<div class="t" style="left:418px;top:988px;font-size:14.5px;color:#333;">master</div>
<div class="t" style="left:611px;top:988px;font-size:14.5px;color:#333;">20250612152453_ede35...</div>
<div class="t" style="left:803px;top:988px;font-size:14.5px;color:#333;">test</div>
<div class="t" style="left:884px;top:988px;font-size:14.5px;color:#333;">11</div>
<div class="t" style="left:1076px;top:988px;font-size:14px;color:#333;letter-spacing:0.22px">2025–06–12 15:24:53</div>
<div class="t" style="left:1261px;width:193px;top:988px;text-align:center;font-size:14px;color:#333;">0分 2秒</div>
<div class="t" style="left:1462px;top:988px;font-size:14px;color:#333;">管理员</div>
<div class="abs" style="left:28px;top:911px;width:9px;height:9px;background:rgb(209,209,209)"></div>
<div class="abs" style="left:28px;top:920px;width:9px;height:9px;background:rgb(234,234,234)"></div>
<div class="abs" style="left:37px;top:911px;width:9px;height:9px;background:rgb(213,213,213)"></div>
<div class="abs" style="left:37px;top:920px;width:9px;height:9px;background:rgb(245,245,245)"></div>
<div class="abs" style="left:46px;top:911px;width:9px;height:9px;background:rgb(222,222,222)"></div>
<div class="abs" style="left:46px;top:920px;width:9px;height:9px;background:rgb(232,232,232)"></div>
<div class="abs" style="left:55px;top:911px;width:9px;height:9px;background:rgb(221,221,221)"></div>
<div class="abs" style="left:55px;top:920px;width:9px;height:9px;background:rgb(230,230,230)"></div>
<div class="abs" style="left:64px;top:911px;width:9px;height:9px;background:rgb(217,217,217)"></div>
<div class="abs" style="left:64px;top:920px;width:9px;height:9px;background:rgb(238,238,238)"></div>
<div class="abs" style="left:73px;top:911px;width:9px;height:9px;background:rgb(219,219,219)"></div>
<div class="abs" style="left:73px;top:920px;width:9px;height:9px;background:rgb(237,237,237)"></div>
<div class="abs" style="left:82px;top:911px;width:9px;height:9px;background:rgb(208,208,208)"></div>
<div class="abs" style="left:82px;top:920px;width:9px;height:9px;background:rgb(245,245,245)"></div>
<div class="abs" style="left:91px;top:911px;width:9px;height:9px;background:rgb(219,219,219)"></div>
<div class="abs" style="left:91px;top:920px;width:9px;height:9px;background:rgb(245,245,245)"></div>
<div class="abs" style="left:100px;top:911px;width:9px;height:9px;background:rgb(214,214,214)"></div>
<div class="abs" style="left:100px;top:920px;width:9px;height:9px;background:rgb(234,234,234)"></div>
<div class="abs" style="left:109px;top:911px;width:9px;height:9px;background:rgb(209,209,209)"></div>
<div class="abs" style="left:109px;top:920px;width:9px;height:9px;background:rgb(234,234,234)"></div>
<div class="abs" style="left:118px;top:911px;width:1px;height:9px;background:rgb(218,218,218)"></div>
<div class="abs" style="left:118px;top:920px;width:1px;height:9px;background:rgb(242,242,242)"></div>
<div class="abs" style="left:28px;top:947px;width:9px;height:9px;background:rgb(230,230,230)"></div>
<div class="abs" style="left:28px;top:956px;width:9px;height:9px;background:rgb(223,223,223)"></div>
<div class="abs" style="left:37px;top:947px;width:9px;height:9px;background:rgb(232,232,232)"></div>
<div class="abs" style="left:37px;top:956px;width:9px;height:9px;background:rgb(207,207,207)"></div>
<div class="abs" style="left:46px;top:947px;width:9px;height:9px;background:rgb(231,231,231)"></div>
<div class="abs" style="left:46px;top:956px;width:9px;height:9px;background:rgb(211,211,211)"></div>
<div class="abs" style="left:55px;top:947px;width:9px;height:9px;background:rgb(230,230,230)"></div>
<div class="abs" style="left:55px;top:956px;width:9px;height:9px;background:rgb(210,210,210)"></div>
<div class="abs" style="left:64px;top:947px;width:9px;height:9px;background:rgb(245,245,245)"></div>
<div class="abs" style="left:64px;top:956px;width:9px;height:9px;background:rgb(221,221,221)"></div>
<div class="abs" style="left:73px;top:947px;width:9px;height:9px;background:rgb(242,242,242)"></div>
<div class="abs" style="left:73px;top:956px;width:9px;height:9px;background:rgb(224,224,224)"></div>
<div class="abs" style="left:82px;top:947px;width:9px;height:9px;background:rgb(243,243,243)"></div>
<div class="abs" style="left:82px;top:956px;width:9px;height:9px;background:rgb(214,214,214)"></div>
<div class="abs" style="left:91px;top:947px;width:9px;height:9px;background:rgb(244,244,244)"></div>
<div class="abs" style="left:91px;top:956px;width:9px;height:9px;background:rgb(206,206,206)"></div>
<div class="abs" style="left:100px;top:947px;width:1px;height:9px;background:rgb(241,241,241)"></div>
<div class="abs" style="left:100px;top:956px;width:1px;height:9px;background:rgb(205,205,205)"></div>
<div class="abs" style="left:31px;top:983px;width:9px;height:9px;background:rgb(231,231,231)"></div>
<div class="abs" style="left:31px;top:992px;width:9px;height:9px;background:rgb(206,206,206)"></div>
<div class="abs" style="left:40px;top:983px;width:9px;height:9px;background:rgb(245,245,245)"></div>
<div class="abs" style="left:40px;top:992px;width:9px;height:9px;background:rgb(208,208,208)"></div>
<div class="abs" style="left:49px;top:983px;width:9px;height:9px;background:rgb(238,238,238)"></div>
<div class="abs" style="left:49px;top:992px;width:9px;height:9px;background:rgb(223,223,223)"></div>
<div class="abs" style="left:58px;top:983px;width:9px;height:9px;background:rgb(243,243,243)"></div>
<div class="abs" style="left:58px;top:992px;width:9px;height:9px;background:rgb(222,222,222)"></div>
<div class="abs" style="left:67px;top:983px;width:9px;height:9px;background:rgb(239,239,239)"></div>
<div class="abs" style="left:67px;top:992px;width:9px;height:9px;background:rgb(215,215,215)"></div>
<div class="abs" style="left:76px;top:983px;width:9px;height:9px;background:rgb(246,246,246)"></div>
<div class="abs" style="left:76px;top:992px;width:9px;height:9px;background:rgb(214,214,214)"></div>
<div class="abs" style="left:85px;top:983px;width:9px;height:9px;background:rgb(241,241,241)"></div>
<div class="abs" style="left:85px;top:992px;width:9px;height:9px;background:rgb(219,219,219)"></div>
</div>
<div class="t" style="left:200px;width:1720px;top:1031px;text-align:center;font-size:14px;letter-spacing:0.4px;color:#262626">LiteOps ©2024 Created by 胡图图</div>
<svg class="abs" style="left:94px;top:1024px" width="12" height="14" viewBox="0 0 12 14"><path d="M9.5 1.2L2.8 6.5L9.5 12.4" fill="none" stroke="#1f1f1f" stroke-width="1.4"/></svg>
</div></body></html>
